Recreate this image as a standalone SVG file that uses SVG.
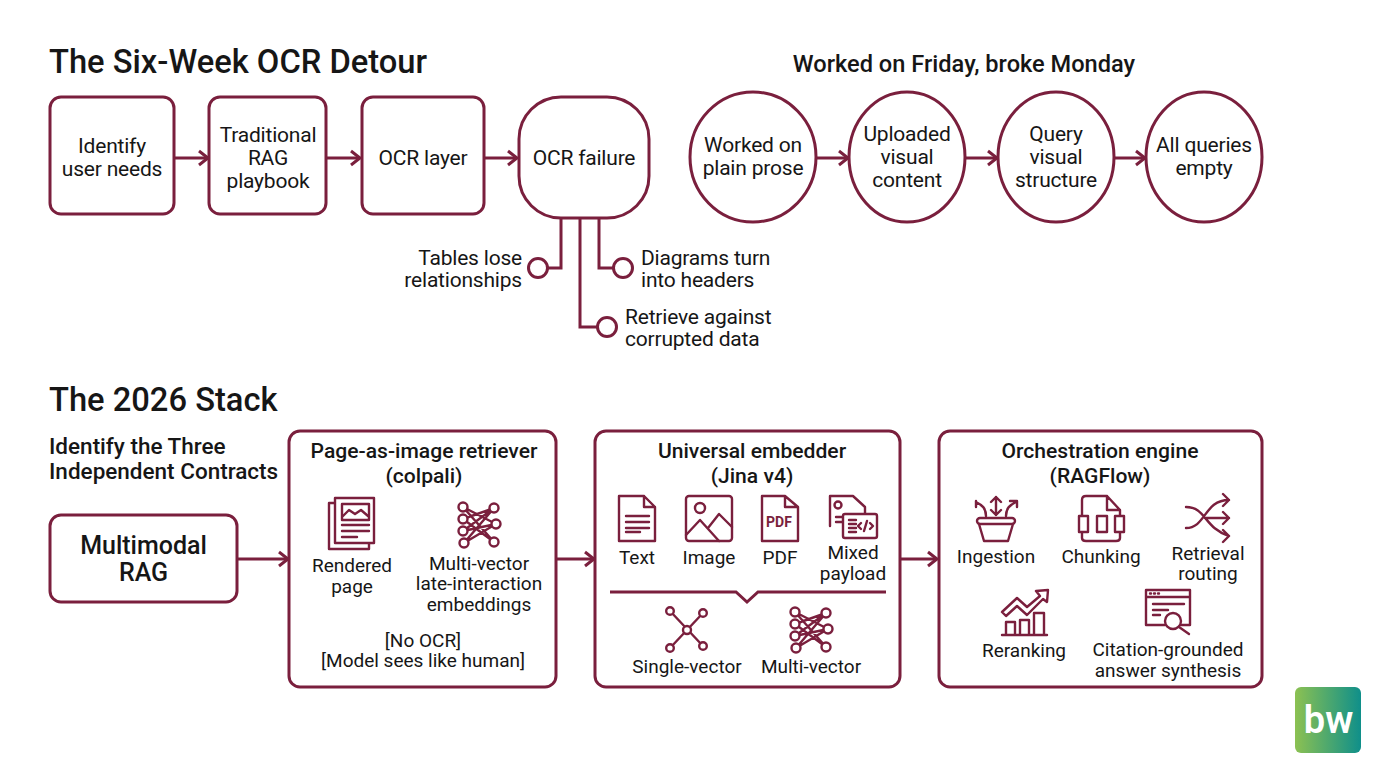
<svg xmlns="http://www.w3.org/2000/svg" width="1376" height="768" viewBox="0 0 1376 768">
<style>
text{font-family:Roboto,"Liberation Sans",sans-serif;fill:#161616;text-anchor:middle}
.t{font-size:32.7px;font-weight:500;text-anchor:start}
.h{font-size:21.1px;font-weight:500;transform:translateY(-.5px)}
.k{font-size:22.5px;font-weight:500;text-anchor:start}
.b{font-size:21px;letter-spacing:-.2px;transform:translateY(-1px)}
.s{font-size:19px;transform:translateY(-.7px)}
.l{text-anchor:start}
.r{text-anchor:end}
.n{fill:#fff;stroke:#7a1f3d;stroke-width:3}
.c{fill:none;stroke:#7a1f3d;stroke-width:3;marker-end:url(#a)}
.p{fill:none;stroke:#7a1f3d;stroke-width:3}
.i{fill:none;stroke:#7a1f3d;stroke-width:2.4;stroke-linecap:round;stroke-linejoin:round}
</style>
<defs>
<marker id="a" markerWidth="14" markerHeight="18" refX="11" refY="8" orient="auto" markerUnits="userSpaceOnUse" viewBox="0 0 14 16"><path d="M2 1L11 8L2 15" fill="none" stroke="#7a1f3d" stroke-width="3"/></marker>
<linearGradient id="g"><stop offset="0" stop-color="#8cc152"/><stop offset="1" stop-color="#0f8f8a"/></linearGradient>
<g id="mv" class="i">
<path d="M-16-18L15 17M-16-18L17-1M-16-6L15-17M-16-6L15 17M-16 6L15-17M-16 6L17-1M-15 18L15-17M-15 18L17-1"/>
<circle cx="-16" cy="-18" r="4.5" fill="#fff"/><circle cx="-16" cy="-6" r="4.5" fill="#fff"/><circle cx="-16" cy="6" r="4.5" fill="#fff"/><circle cx="-15" cy="18" r="4.5" fill="#fff"/><circle cx="15" cy="-17" r="4.5" fill="#fff"/><circle cx="17" cy="-1" r="4.5" fill="#fff"/><circle cx="15" cy="17" r="4.5" fill="#fff"/>
</g>
</defs>
<rect width="1376" height="768" fill="#fff"/>
<text class="t" x="49" y="73">The Six-Week OCR Detour</text>
<text class="h" x="964" y="72" style="font-size:23.6px">Worked on Friday, broke Monday</text>
<text class="t" x="49" y="411">The 2026 Stack</text>
<g id="connectors">
<path class="c" d="M175 158H208"/>
<path class="c" d="M327 158H360"/>
<path class="c" d="M485 158H517"/>
<path class="c" d="M817 158H848"/>
<path class="c" d="M966 158H997"/>
<path class="c" d="M1115 158H1145"/>
<path class="c" d="M237 559H288"/>
<path class="c" d="M556 559H594"/>
<path class="c" d="M900 559H937"/>
<path class="p" d="M561 218V268H548"/>
<path class="p" d="M580 218V327H597"/>
<path class="p" d="M599 218V268H613"/>
</g>
<g id="n-identify"><rect class="n" x="50" y="97" width="124" height="117" rx="11"/><text class="b" x="112" y="154">Identify</text><text class="b" x="112" y="177">user needs</text></g>
<g id="n-playbook"><rect class="n" x="209" y="97" width="117" height="117" rx="11"/><text class="b" x="268" y="143">Traditional</text><text class="b" x="268" y="166">RAG</text><text class="b" x="268" y="189">playbook</text></g>
<g id="n-ocr"><rect class="n" x="362" y="97" width="122" height="117" rx="11"/><text class="b" x="423" y="166">OCR layer</text></g>
<g id="n-fail"><rect class="n" x="519" y="97" width="130" height="121" rx="42"/><text class="b" x="584" y="166">OCR failure</text></g>
<g id="n-tables"><circle class="n" cx="538" cy="268" r="9.5"/><text class="b r" x="522" y="266">Tables lose</text><text class="b r" x="522" y="288">relationships</text></g>
<g id="n-diagrams"><circle class="n" cx="623" cy="268" r="9.5"/><text class="b l" x="641" y="266">Diagrams turn</text><text class="b l" x="641" y="288">into headers</text></g>
<g id="n-retrieve"><circle class="n" cx="607" cy="327" r="9.5"/><text class="b l" x="625" y="325">Retrieve against</text><text class="b l" x="625" y="347">corrupted data</text></g>
<g id="n-prose"><ellipse class="n" cx="753" cy="157" rx="63" ry="65"/><text class="b" x="753" y="153">Worked on</text><text class="b" x="753" y="176">plain prose</text></g>
<g id="n-uploaded"><ellipse class="n" cx="907" cy="157" rx="58" ry="65"/><text class="b" x="907" y="142">Uploaded</text><text class="b" x="907" y="165">visual</text><text class="b" x="907" y="188">content</text></g>
<g id="n-query"><ellipse class="n" cx="1056" cy="157" rx="58" ry="65"/><text class="b" x="1056" y="142">Query</text><text class="b" x="1056" y="165">visual</text><text class="b" x="1056" y="188">structure</text></g>
<g id="n-empty"><ellipse class="n" cx="1204" cy="157" rx="58" ry="65"/><text class="b" x="1204" y="153">All queries</text><text class="b" x="1204" y="176">empty</text></g>
<g id="n-contracts"><text class="k" x="49" y="454">Identify the Three</text><text class="k" x="49" y="479">Independent Contracts</text></g>
<g id="n-mm"><rect class="n" x="50" y="515" width="187" height="87" rx="11"/><text x="143.500" y="554" style="font-size:25px;font-weight:500">Multimodal</text><text x="143.500" y="581" style="font-size:25px;font-weight:500">RAG</text></g>
<g id="n-colpali"><rect class="n" x="289" y="431" width="267" height="256" rx="11"/>
<text class="h" x="424" y="458">Page-as-image retriever</text><text class="h" x="424" y="483">(colpali)</text>
<g class="i"><path d="M335 503H329V549H369V543"/><rect x="335" y="498" width="39" height="45" fill="#fff"/><rect x="342" y="504" width="27" height="16"/><path d="M343 516L349 510L355 514L361 510L368 516M342 525H369M342 531H369M342 537H357"/></g>
<text class="s" x="352" y="573">Rendered</text><text class="s" x="352" y="594">page</text>
<use href="#mv" x="479" y="525"/>
<text class="s" x="479" y="571">Multi-vector</text><text class="s" x="479" y="591">late-interaction</text><text class="s" x="479" y="612">embeddings</text>
<text class="s" x="423" y="648">[No OCR]</text><text class="s" x="423" y="668">[Model sees like human]</text></g>
<g id="n-jina"><rect class="n" x="595" y="431" width="305" height="256" rx="11"/>
<text class="h" x="752" y="458">Universal embedder</text><text class="h" x="752" y="483">(Jina v4)</text>
<g class="i"><path d="M619 496H644L655 507V541H619ZM644 496V507H655M626 516H649M626 522H649M626 528H649M626 532H640"/>
<rect x="686" y="496" width="46" height="45" rx="3"/><circle cx="700" cy="508" r="5"/><path d="M686 535L700 520L719 541M708 528L719 514L732 527"/>
<path d="M762 496H785L798 507V541H762ZM785 496V507H798"/></g>
<text x="779" y="527" style="font-size:14px;font-weight:700;fill:#7a1f3d">PDF</text>
<g class="i"><path d="M830 526V496H853L865 507V514"/><circle cx="838" cy="505" r="3.5"/><path d="M836 517H843M836 522H842"/><rect x="843" y="514" width="34" height="24" rx="2" fill="#fff"/><path d="M849 520H856M849 524H856M849 528H856M849 532H856M861 523L858 526L861 529M870 523L873 526L870 529M867 521L864 531"/></g>
<text class="s" x="637" y="565">Text</text><text class="s" x="709" y="565">Image</text><text class="s" x="780" y="565">PDF</text><text class="s" x="853" y="560">Mixed</text><text class="s" x="853" y="581">payload</text>
<path class="p" d="M610 592H736L747 602L758 592H886"/>
<g class="i"><path d="M670 611L703 646M703 613L670 648"/><circle cx="670" cy="611" r="3.8" fill="#fff"/><circle cx="703" cy="613" r="3.8" fill="#fff"/><circle cx="670" cy="648" r="3.8" fill="#fff"/><circle cx="703" cy="646" r="3.8" fill="#fff"/><circle cx="687" cy="630" r="4" fill="#fff"/></g>
<use href="#mv" x="811" y="630"/>
<text class="s" x="687" y="674">Single-vector</text><text class="s" x="811" y="674">Multi-vector</text></g>
<g id="n-rag"><rect class="n" x="939" y="431" width="323" height="256" rx="11"/>
<text class="h" x="1100" y="458">Orchestration engine</text><text class="h" x="1100" y="483">(RAGFlow)</text>
<g class="i"><rect x="977" y="518" width="38" height="6" rx="3"/><path d="M979 524L984 541H1008L1013 524M996 497V515M991 502L996 497L1001 502M991 510L996 515L1001 510M986 516C986 508 982 505 976 502M976 501V507M1006 516C1006 508 1010 505 1016 502M1010 501H1017V507"/>
<path d="M1082 520V500Q1082 496 1086 496H1107L1120 510V538Q1120 541 1116 541H1086Q1082 541 1082 538V520M1107 496V510H1120"/><rect x="1079" y="516" width="9" height="16" fill="#fff"/><rect x="1097" y="516" width="10" height="16" fill="#fff"/><rect x="1115" y="516" width="9" height="16" fill="#fff"/>
<path d="M1186 507C1206 507 1204 528 1229 536M1186 528C1206 528 1204 500 1229 500M1205 518H1229M1223 494L1229 500L1223 506M1223 512L1229 518L1223 524M1223 530L1229 536L1223 542"/>
<path d="M1002 635H1047M1006 635V622H1015V635M1020 635V620H1029V635M1034 635V613H1044V635M1002 612L1017 598L1027 607L1040 596L1036 591L1048 590L1047 602L1043 599L1027 615L1017 606L1006 616Z"/>
<path d="M1165 625H1146V590H1190V625H1181M1146 597H1190M1150 593.500H1151M1154 593.500H1155M1158 593.500H1159M1153 604H1184M1153 610H1168M1153 615H1160"/><circle cx="1173" cy="621" r="8" fill="#fff"/><path d="M1179 627L1189 634"/></g>
<text class="s" x="996" y="564">Ingestion</text><text class="s" x="1101" y="564">Chunking</text><text class="s" x="1208" y="561">Retrieval</text><text class="s" x="1208" y="581">routing</text>
<text class="s" x="1024" y="658">Reranking</text><text class="s" x="1168" y="657">Citation-grounded</text><text class="s" x="1168" y="678">answer synthesis</text></g>
<g id="logo"><rect x="1295" y="687" width="66" height="66" rx="6" fill="url(#g)"/><text x="1328.500" y="733" style="font-size:38px;font-weight:600;fill:#fff">bw</text></g>
</svg>
